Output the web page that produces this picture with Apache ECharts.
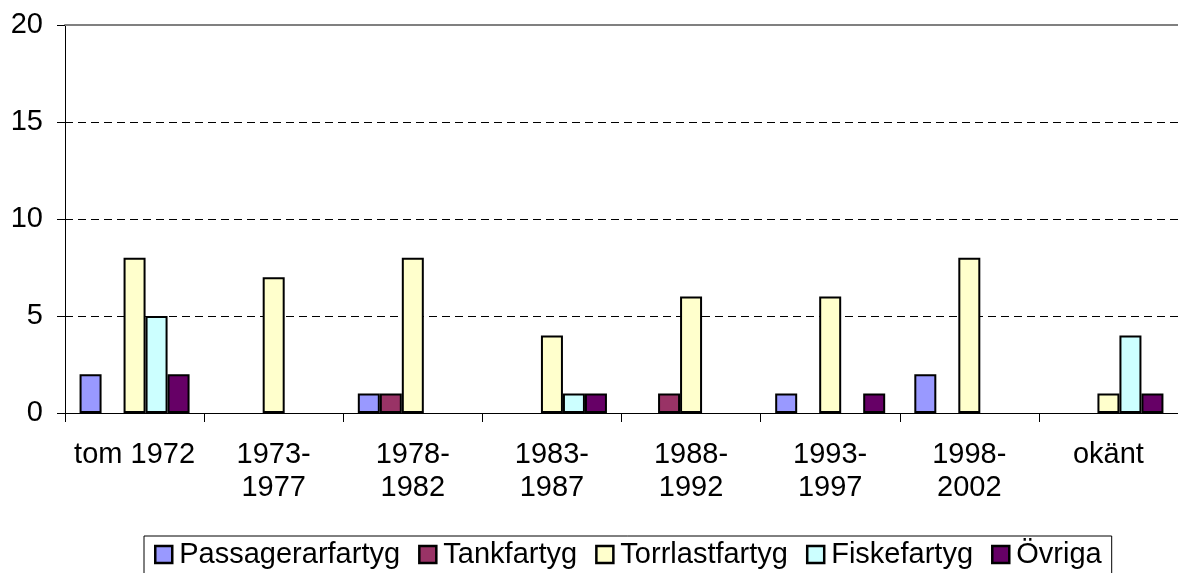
<!DOCTYPE html>
<html>
<head>
<meta charset="utf-8">
<script src="https://cdn.jsdelivr.net/npm/echarts@6/dist/echarts.min.js"></script>
<style>
  html, body { margin: 0; padding: 0; background: #fff; }
  #chart { width: 1178px; height: 573px; }
</style>
</head>
<body>
<div id="chart"></div>
<script>
// kategorier (byggår)
var categories = ['tom 1972', '1973-\n1977', '1978-\n1982', '1983-\n1987', '1988-\n1992', '1993-\n1997', '1998-\n2002', 'okänt'];

// antal fartyg per typ
var passagerarfartyg = [2, 0, 1, 0, 0, 1, 2, 0];
var tankfartyg       = [0, 0, 1, 0, 1, 0, 0, 0];
var torrlastfartyg   = [8, 7, 8, 4, 6, 6, 8, 1];
var fiskefartyg      = [5, 0, 0, 1, 0, 0, 0, 4];
var ovriga           = [2, 0, 0, 1, 0, 1, 0, 1];

var yTicks = [0, 5, 10, 15, 20];

var font = '"Liberation Sans", Arial, sans-serif';

function bar(name, data, color) {
    return {
        name: name,
        type: 'bar',
        // nollor ritas inte (som i Excel)
        data: data.map(function (v) { return v === 0 ? '-' : v; }),
        barWidth: 22,
        barGap: '0%',
        itemStyle: { color: color, borderColor: '#000', borderWidth: 2 }
    };
}

var myChart = echarts.init(document.getElementById('chart'));
var option = {
    animation: false,
    backgroundColor: '#fff',
    textStyle: { fontFamily: font },
    grid: { left: 65, top: 25, width: 1126, height: 388, containLabel: false },
    legend: {
        left: 144,
        top: 536,
        padding: [4, 10, 20, 10],
        borderColor: '#000',
        borderWidth: 1,
        backgroundColor: '#fff',
        icon: 'rect',
        itemWidth: 17,
        itemHeight: 17,
        itemGap: 18,
        itemStyle: { borderColor: '#000', borderWidth: 2.5 },
        textStyle: { fontSize: 29, color: '#000', fontFamily: font, padding: [0, 0, 0, 2] },
        data: ['Passagerarfartyg', 'Tankfartyg', 'Torrlastfartyg', 'Fiskefartyg', 'Övriga']
    },
    xAxis: [{
        type: 'category',
        data: categories,
        boundaryGap: true,
        axisLine: { lineStyle: { color: '#000', width: 1 } },
        axisTick: { show: true, length: 9, lineStyle: { color: '#000' } },
        axisLabel: { color: '#000', fontSize: 29, lineHeight: 33, margin: 25, interval: 0, fontFamily: font }
    }, {
        type: 'category',
        position: 'top',
        data: categories,
        axisLine: { show: true, lineStyle: { color: '#808080', width: 2 } },
        axisTick: { show: false },
        axisLabel: { show: false }
    }],
    yAxis: {
        type: 'value',
        min: yTicks[0],
        max: yTicks[yTicks.length - 1],
        interval: 5,
        axisLine: { show: true, lineStyle: { color: '#000', width: 1 } },
        axisTick: { show: true, length: 8, lineStyle: { color: '#000' } },
        axisLabel: { color: '#000', fontSize: 29, margin: 22, fontFamily: font },
        splitLine: { show: true, lineStyle: { color: '#000', width: 1, type: [8, 5] } }
    },
    series: [
        bar('Passagerarfartyg', passagerarfartyg, '#9999FF'),
        bar('Tankfartyg', tankfartyg, '#993366'),
        bar('Torrlastfartyg', torrlastfartyg, '#FFFFCC'),
        bar('Fiskefartyg', fiskefartyg, '#CCFFFF'),
        bar('Övriga', ovriga, '#660066')
    ]
};
myChart.setOption(option);
</script>
</body>
</html>
